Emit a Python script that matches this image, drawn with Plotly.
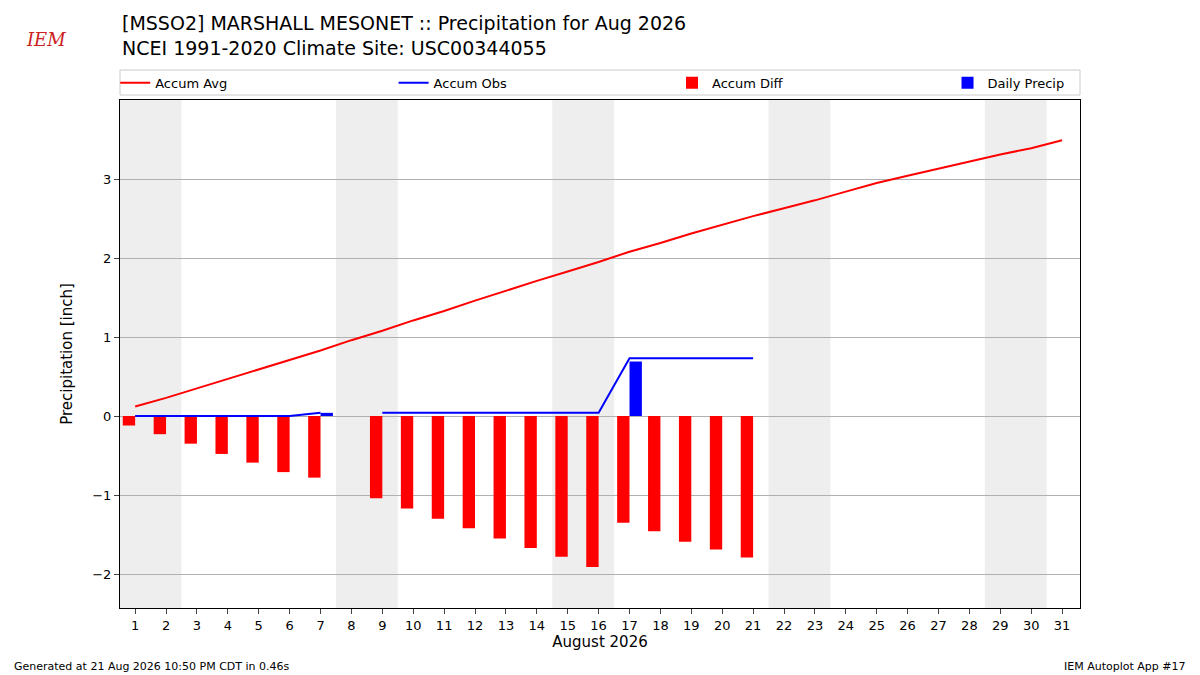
import plotly.graph_objects as go

days = list(range(1, 32))
accum_avg = [0.12,0.23,0.35,0.47,0.59,0.71,0.83,0.96,1.08,1.21,1.33,1.46,1.59,1.71,1.83,1.95,2.08,2.19,2.31,2.42,2.53,2.63,2.73,2.84,2.95,3.04,3.13,3.22,3.31,3.39,3.49]
obs_days = list(range(1, 22))
accum_obs = [0,0,0,0,0,0,0.04,None,0.04,0.04,0.04,0.04,0.04,0.04,0.04,0.04,0.73,0.73,0.73,0.73,0.73]
accum_diff = [-0.12,-0.23,-0.35,-0.48,-0.59,-0.71,-0.78,None,-1.04,-1.17,-1.30,-1.42,-1.55,-1.67,-1.78,-1.91,-1.35,-1.46,-1.59,-1.69,-1.79]
daily_precip = [0,0,0,0,0,0,0.04,0,0,0,0,0,0,0,0,0,0.69,0,0,0,0]
weekends = [(0.5,2.5),(7.5,9.5),(14.5,16.5),(21.5,23.5),(28.5,30.5)]

fig = go.Figure()
fig.add_trace(go.Scatter(x=days, y=accum_avg, mode="lines", name="Accum Avg", line=dict(color="red", width=2), legend="legend"))
fig.add_trace(go.Scatter(x=obs_days, y=accum_obs, mode="lines", name="Accum Obs", line=dict(color="blue", width=2), connectgaps=False, legend="legend2"))
fig.add_trace(go.Bar(x=[d-0.2 for d in obs_days], y=accum_diff, width=0.4, name="Accum Diff", marker=dict(color="red", line_width=0), legend="legend3"))
fig.add_trace(go.Bar(x=[d+0.2 for d in obs_days], y=daily_precip, width=0.4, name="Daily Precip", marker=dict(color="blue", line_width=0), legend="legend4"))

for a, b in weekends:
    fig.add_vrect(x0=a, x1=b, fillcolor="#eeeeee", line_width=0, layer="below")

fig.add_shape(type="rect", xref="paper", yref="paper", x0=0, x1=1, y0=1.0098, y1=1.059,
              line=dict(color="#cccccc", width=1), fillcolor="rgba(0,0,0,0)")

leg = dict(orientation="h", y=1.034, xanchor="left", yanchor="middle",
           bgcolor="rgba(0,0,0,0)", borderwidth=0, font=dict(size=13))
fig.update_layout(
    width=1200, height=675, plot_bgcolor="white", paper_bgcolor="white",
    margin=dict(l=112, r=128, t=92, b=75, autoexpand=False),
    font=dict(family="DejaVu Sans", size=13, color="black"),
    barmode="overlay", showlegend=True,
    legend=dict(leg, x=-0.005),
    legend2=dict(leg, x=0.285),
    legend3=dict(leg, x=0.575),
    legend4=dict(leg, x=0.862),
    xaxis=dict(range=[0.51, 31.58], tickvals=days, ticks="outside", showgrid=False,
               showline=True, linecolor="black", mirror=True, zeroline=False,
               title=dict(text="August 2026", font=dict(size=15), standoff=4)),
    yaxis=dict(range=[-2.43, 4.0], tickvals=[-2,-1,0,1,2,3], ticktext=["\u22122","\u22121","0","1","2","3"],
               ticks="outside", showgrid=True, gridcolor="#b0b0b0", showline=True, linecolor="black",
               mirror=True, zeroline=False, title=dict(text="Precipitation [inch]", font=dict(size=15))),
)
fig.add_annotation(text="[MSSO2] MARSHALL MESONET :: Precipitation for Aug 2026<br>NCEI 1991-2020 Climate Site: USC00344055",
                   xref="paper", yref="paper", x=0, y=1.077, xanchor="left", yanchor="bottom",
                   showarrow=False, align="left", font=dict(size=19))
fig.add_annotation(text="Generated at 21 Aug 2026 10:50 PM CDT in 0.46s", xref="paper", yref="paper",
                   x=-0.1125, y=-0.098, xanchor="left", yanchor="top", showarrow=False, font=dict(size=11))
fig.add_annotation(text="IEM Autoplot App #17", xref="paper", yref="paper",
                   x=1.1125, y=-0.098, xanchor="right", yanchor="top", showarrow=False, font=dict(size=11))
fig.add_annotation(text="<i>IEM</i>", xref="paper", yref="paper", x=-0.1, y=1.12, xanchor="left",
                   yanchor="middle", showarrow=False, font=dict(size=18, color="#cc2222", family="DejaVu Serif"))
fig.write_html("out.html")
